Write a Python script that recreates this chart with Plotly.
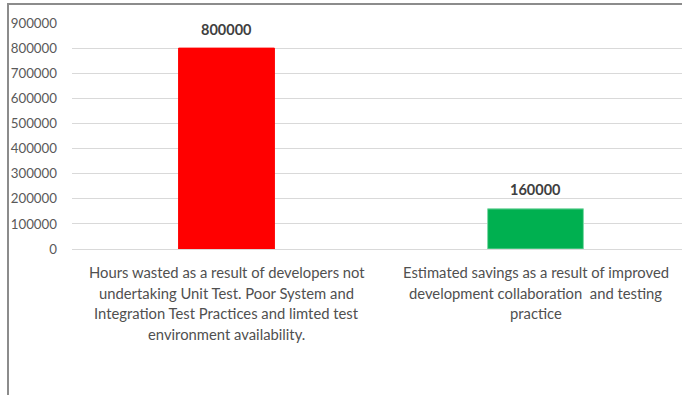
import plotly.graph_objects as go

# Chart data
categories = ["wasted", "savings"]
category_lines = [
    ["Hours wasted as a result of developers not",
     "undertaking Unit Test. Poor System and",
     "Integration Test Practices and limted test",
     "environment availability."],
    ["Estimated savings as a result of improved",
     "development collaboration  and testing",
     "practice"],
]
hours = [800000, 160000]
bar_colors = ["#FF0000", "#00B050"]
bar_outlines = ["#FF0000", "#7FD8A7"]
y_ticks = [0, 100000, 200000, 300000, 400000, 500000, 600000, 700000, 800000, 900000]

W, H = 682, 395
L, R, T, B = 72, 0, 23, 146
plot_w = W - L - R
plot_h = H - T - B

fig = go.Figure()
fig.add_trace(go.Bar(
    x=categories,
    y=hours,
    width=0.31,
    marker=dict(color=bar_colors, line=dict(color=bar_outlines, width=1)),
    hoverinfo="skip",
))

annotations = []
# value labels above bars
for cat, val in zip(categories, hours):
    annotations.append(dict(
        x=cat, y=val, xref="x", yref="y",
        text=f"<b>{val}</b>", showarrow=False,
        yanchor="middle", yshift=19,
        font=dict(family="Lato", size=14.5, color="#404040"),
    ))
# category labels under the axis, one annotation per line
line_gap = 20.7
for cat, lines in zip(categories, category_lines):
    for i, line in enumerate(lines):
        annotations.append(dict(
            x=cat, y=0, xref="x", yref="paper",
            text=line, showarrow=False,
            yanchor="middle", yshift=-(23 + i * line_gap),
            font=dict(family="Lato", size=14.8, color="#505050"),
        ))

def px_x(px):
    return (px - L) / plot_w

def px_y(py):
    return (H - B - py) / plot_h

shapes = [
    # frame lines at the left and top
    dict(type="line", xref="paper", yref="paper",
         x0=px_x(8), x1=px_x(8), y0=px_y(4), y1=px_y(400),
         line=dict(color="#8c8c8c", width=2)),
    dict(type="line", xref="paper", yref="paper",
         x0=px_x(7), x1=px_x(690), y0=px_y(4), y1=px_y(4),
         line=dict(color="#8c8c8c", width=2)),
]

fig.update_layout(
    width=W, height=H,
    margin=dict(l=L, r=R, t=T, b=B),
    paper_bgcolor="white", plot_bgcolor="white",
    showlegend=False,
    annotations=annotations,
    shapes=shapes,
    xaxis=dict(
        type="category",
        range=[-0.5, -0.5 + plot_w / 309],
        showticklabels=False, showgrid=False, zeroline=False, showline=False,
        ticks="",
    ),
    yaxis=dict(
        range=[0, 900000],
        tickvals=y_ticks,
        ticktext=[str(v) for v in y_ticks],
        showgrid=True, gridcolor="#d9d9d9", gridwidth=1,
        zeroline=True, zerolinecolor="#d9d9d9", zerolinewidth=1,
        showline=False, ticks="",
        ticklabelstandoff=14,
        tickfont=dict(family="Lato", size=13.3, color="#595959"),
    ),
)

fig.write_html("out.html")
